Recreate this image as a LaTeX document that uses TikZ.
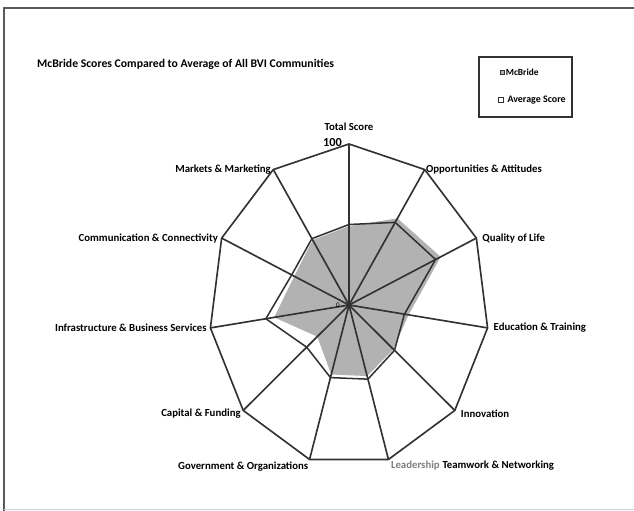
\documentclass[tikz,border=0pt]{standalone}
\usepackage{fontspec}
\setmainfont{Carlito}
\usetikzlibrary{positioning}

\definecolor{rimgray}{RGB}{50,50,50}
\definecolor{fillgray}{RGB}{178,178,178}
\definecolor{framegray}{RGB}{90,90,90}

\begin{document}
\begin{tikzpicture}[x=0.03cm, y=-0.03cm,
    spoke/.style={draw=rimgray, line width=1.4pt},
    lbl/.style={inner sep=0pt, font=\fontsize{9.2}{10}\selectfont\bfseries},
    avg/.style={draw=rimgray, line width=1.3pt, line join=round},
    mcb/.style={fill=fillgray}]
    \useasboundingbox (0,0) rectangle (634,511);

    % frame and title
    \draw[framegray, line width=1.6pt] (4,511) -- (4,8) -- (634,8);
    \draw[gray!35, line width=0.6pt] (4,509) -- (634,509);
    \node[lbl, anchor=west, font=\fontsize{10}{11}\selectfont\bfseries] (title) at (37,64) {McBride Scores Compared to Average of All BVI Communities};

    % legend
    \node[draw=rimgray, line width=0.9pt, minimum width=93*0.03cm, minimum height=60*0.03cm, inner sep=0pt] (legend) at (525.5,87) {};
    \node[fill=fillgray, draw=rimgray, line width=0.6pt, minimum size=3.5pt, inner sep=0pt] (mkA) at (502,72) {};
    \node[lbl, right=1pt of mkA, font=\fontsize{8}{9}\selectfont\bfseries] (lgA) {McBride};
    \node[draw=rimgray, line width=0.8pt, minimum size=4pt, inner sep=0pt] (mkB) at (501,100) {};
    \node[lbl, right=3pt of mkB, font=\fontsize{8.5}{9}\selectfont\bfseries] (lgB) {Average Score};

    \begin{scope}[shift={(349,305)}, x=4.2cm, y=4.83cm]
        \coordinate (o) at (0,0);
        \coordinate (v0) at (90:1);
        \coordinate (v1) at (57.27:1);
        \coordinate (v2) at (24.55:1);
        \coordinate (v3) at (-8.18:1);
        \coordinate (v4) at (-40.91:1);
        \coordinate (v5) at (-73.64:1);
        \coordinate (v6) at (-106.36:1);
        \coordinate (v7) at (-139.09:1);
        \coordinate (v8) at (-171.82:1);
        \coordinate (v9) at (155.45:1);
        \coordinate (v10) at (122.73:1);

        % McBride
        \fill[mcb] (90:0.49) -- (57.27:0.64) -- (24.55:0.72) -- (-8.18:0.43) -- (-40.91:0.42) -- (-73.64:0.46)
            -- (-106.36:0.45) -- (-139.09:0.30) -- (-171.82:0.54) -- (155.45:0.43) -- (122.73:0.48) -- cycle;
        % Average Score
        \draw[avg] (90:0.50) -- (57.27:0.61) -- (24.55:0.68) -- (-8.18:0.40) -- (-40.91:0.43) -- (-73.64:0.48)
            -- (-106.36:0.47) -- (-139.09:0.40) -- (-171.82:0.60) -- (155.45:0.45) -- (122.73:0.49) -- cycle;

        \path[spoke] (o) edge (v0) (o) edge (v1) (o) edge (v2) (o) edge (v3) (o) edge (v4) (o) edge (v5)
            (o) edge (v6) (o) edge (v7) (o) edge (v8) (o) edge (v9) (o) edge (v10);
        \draw[spoke, line join=round] (v0) -- (v1) -- (v2) -- (v3) -- (v4) -- (v5) -- (v6) -- (v7) -- (v8) -- (v9) -- (v10) -- cycle;
        \fill[rimgray] (o) circle (2.4pt);

        \node[inner sep=0pt, font=\fontsize{6}{6}\selectfont] (zero) at (-0.08,0) {0};
        \node[inner sep=0pt, anchor=base east, font=\fontsize{10.5}{11}\selectfont\bfseries] (top) at ([xshift=-6pt, yshift=-2.5pt]v0) {100};

        \node[lbl, above=11pt of v0] (l0) {Total Score};
        \node[lbl, right=1pt of v1] (l1) {Opportunities \& Attitudes};
        \node[lbl, right=5pt of v2] (l2) {Quality of Life};
        \node[lbl, right=5pt of v3] (l3) {Education \& Training};
        \node[lbl, anchor=west] (l4) at ([xshift=5pt, yshift=-3pt]v4) {Innovation};
        \node[lbl, anchor=west, text=gray] (l5a) at ([xshift=2pt, yshift=-5pt]v5) {Leadership};
        \node[lbl, right=2pt of l5a] (l5) {Teamwork \& Networking};
        \node[lbl, anchor=east] (l6) at ([xshift=-1pt, yshift=-6pt]v6) {Government \& Organizations};
        \node[lbl, anchor=east] (l7) at ([xshift=-2pt, yshift=-3pt]v7) {Capital \& Funding};
        \node[lbl, left=3pt of v8] (l8) {Infrastructure \& Business Services};
        \node[lbl, left=3pt of v9] (l9) {Communication \& Connectivity};
        \node[lbl, left=2pt of v10] (l10) {Markets \& Marketing};
    \end{scope}
\end{tikzpicture}
\end{document}
